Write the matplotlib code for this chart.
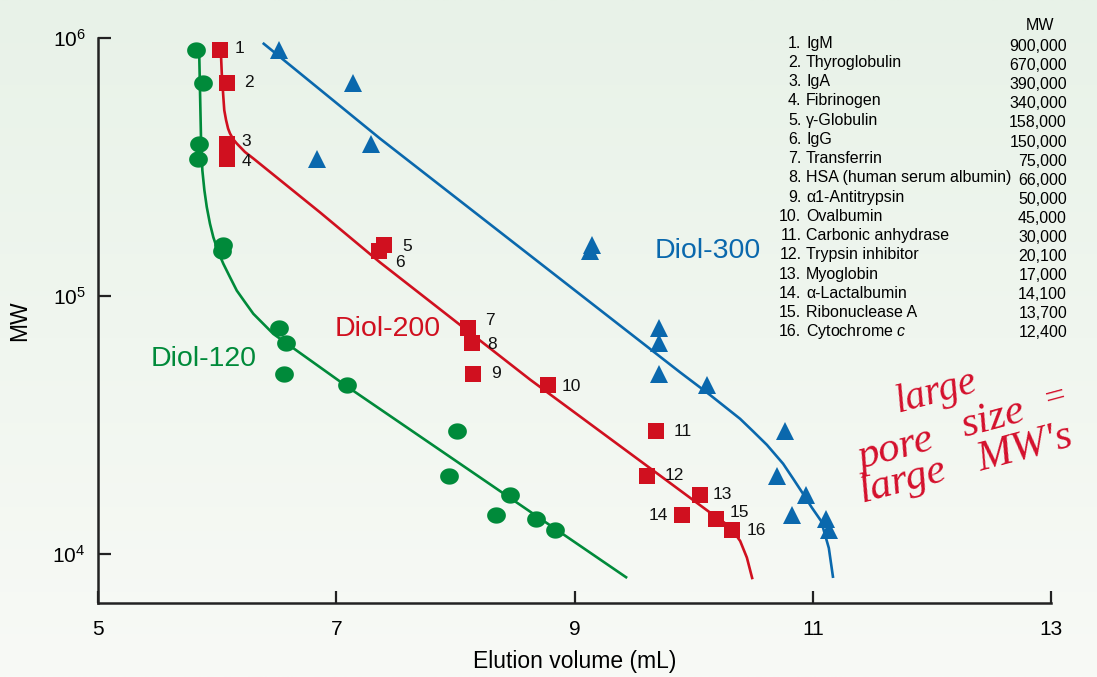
import numpy as np
import matplotlib
matplotlib.use("Agg")
import matplotlib.pyplot as plt
from matplotlib.path import Path
from matplotlib.ticker import FixedLocator, NullLocator, FixedFormatter

plt.rcParams['font.family'] = ['Liberation Sans', 'DejaVu Sans']
plt.rcParams['mathtext.fontset'] = 'custom'
plt.rcParams['mathtext.rm'] = 'Liberation Sans'
plt.rcParams['mathtext.it'] = 'Liberation Sans:italic'

# ---------------- data ----------------
protein_ids = [str(i) for i in range(1, 17)]
protein_names = ["IgM", "Thyroglobulin", "IgA", "Fibrinogen", "γ-Globulin", "IgG",
                 "Transferrin", "HSA (human serum albumin)", "α1-Antitrypsin",
                 "Ovalbumin", "Carbonic anhydrase", "Trypsin inhibitor", "Myoglobin",
                 "α-Lactalbumin", "Ribonuclease A", "Cytochrome $\\mathit{c}$"]
mw = [900000, 670000, 390000, 340000, 158000, 150000, 75000, 66000, 50000,
      45000, 30000, 20100, 17000, 14100, 13700, 12400]
mw_labels = ["900,000", "670,000", "390,000", "340,000", "158,000", "150,000",
             "75,000", "66,000", "50,000", "45,000", "30,000", "20,100",
             "17,000", "14,100", "13,700", "12,400"]

# elution volumes (mL)
v_diol120 = [5.82, 5.88, 5.85, 5.84, 6.05, 6.04, 6.52, 6.58, 6.56, 7.09,
             8.01, 7.95, 8.46, 8.34, 8.68, 8.84]
v_diol200 = [6.02, 6.08, 6.08, 6.08, 7.40, 7.36, 8.11, 8.14, 8.15, 8.78,
             9.68, 9.61, 10.05, 9.90, 10.19, 10.32]
v_diol300 = [6.52, 7.14, 7.29, 6.84, 9.15, 9.13, 9.71, 9.71, 9.71, 10.11,
             10.77, 10.70, 10.94, 10.83, 11.11, 11.14]

# calibration curves (elution volume, log10 MW)
curve120_v = [5.848, 5.865, 5.876, 5.893, 5.913, 5.940, 5.968, 6.010, 6.052, 6.108,
              6.165, 6.234, 6.304, 6.388, 6.472, 7.091, 9.442]
curve120_logmw = [5.977, 5.604, 5.487, 5.410, 5.345, 5.280, 5.228, 5.170, 5.125, 5.073,
                  5.021, 4.976, 4.931, 4.892, 4.853, 4.649, 3.907]
curve200_v = [6.029, 6.039, 6.052, 6.060, 6.075, 6.092, 6.108, 6.136, 6.165, 6.234,
              6.304, 6.864, 7.368, 8.627, 9.551, 10.195, 10.256, 10.321, 10.391,
              10.447, 10.494]
curve200_logmw = [5.973, 5.863, 5.772, 5.720, 5.682, 5.649, 5.630, 5.607, 5.591, 5.558,
                  5.533, 5.324, 5.130, 4.676, 4.361, 4.141, 4.122, 4.096, 4.050,
                  3.986, 3.902]
curve300_v = [6.383, 7.368, 9.887, 10.139, 10.390, 10.498, 10.615, 10.751, 10.838,
              10.919, 10.992, 11.070, 11.135, 11.171]
curve300_logmw = [5.981, 5.610, 4.704, 4.616, 4.524, 4.476, 4.423, 4.350, 4.290,
                  4.233, 4.180, 4.128, 4.023, 3.907]

x_ticks = [5, 7, 9, 11, 13]
y_ticks = [1e4, 1e5, 1e6]
y_ticklabels = ["$10^4$", "$10^5$", "$10^6$"]

# label offsets (pixels) for numbers beside Diol-200 squares
label_dx = [20, 22, 20, 20, 23, 21, 21, 20, 23, 23, 27, 27, 23, -23, 23, 25]
label_dy = [1, 0, 2, -3, -2, -12, 8, -2, 0, -1, -1, 0, 0, 0, 6, -1]

GREEN = "#008a3a"
RED = "#d0101f"
BLUE = "#0a68ad"

W, H = 1097, 677
fig = plt.figure(figsize=(W / 100, H / 100), dpi=100)

# background gradient
bg = fig.add_axes([0, 0, 1, 1], zorder=-10)
top = np.array([232, 242, 232]) / 255
bot = np.array([248, 250, 246]) / 255
t = np.linspace(0, 1, 256)[:, None]
grad = top[None, :] * (1 - t) + bot[None, :] * t
bg.imshow(np.repeat(grad[:, None, :], 2, axis=1), aspect='auto', extent=[0, 1, 0, 1])
bg.axis('off')

ax = fig.add_axes([98 / W, 1 - 603 / H, (1051 - 98) / W, (603 - 38) / H])
ax.set_facecolor('none')
ax.set_yscale('log')
ax.set_xlim(5, 13)
ax.set_ylim(10 ** 3.81, 1e6)

# ellipse-like marker for circles
th = np.linspace(0, 2 * np.pi, 60)
ellipse = Path(np.column_stack([1.15 * np.cos(th), np.sin(th)]), closed=True)

line_kw = dict(lw=1.9, zorder=2, solid_capstyle='butt', solid_joinstyle='round')
ax.plot(curve120_v, 10 ** np.array(curve120_logmw), color=GREEN, **line_kw)
ax.plot(curve200_v, 10 ** np.array(curve200_logmw), color=RED, **line_kw)
ax.plot(curve300_v, 10 ** np.array(curve300_logmw), color=BLUE, **line_kw)

ax.plot(v_diol120, mw, ls='none', marker=ellipse, ms=13.5, color=GREEN, mew=0, zorder=3)
ax.plot(v_diol200, mw, ls='none', marker='s', ms=11.5, color=RED, mew=0, zorder=3)
ax.plot(v_diol300, mw, ls='none', marker='^', ms=13, color=BLUE, mew=0, zorder=3)

for lab, v, m, dx, dy in zip(protein_ids, v_diol200, mw, label_dx, label_dy):
    ax.annotate(lab, (v, m), xytext=(dx, dy), textcoords='offset pixels',
                ha='center', va='center', fontsize=12.5, color='#111111', zorder=4)

ax.text(7.435, 1e5 * 10 ** (-(328 - 295) / 257.5), "Diol-200", color=RED, fontsize=20.5,
        ha='center', va='center')
ax.text(5.89, 1e5 * 10 ** (-(358 - 295) / 257.5), "Diol-120", color=GREEN, fontsize=20.5,
        ha='center', va='center')
ax.text(10.12, 1e5 * 10 ** (-(250 - 295) / 257.5), "Diol-300", color=BLUE, fontsize=20.5,
        ha='center', va='center')

ax.xaxis.set_major_locator(FixedLocator(x_ticks))
ax.yaxis.set_major_locator(FixedLocator(y_ticks))
ax.yaxis.set_major_formatter(FixedFormatter(y_ticklabels))
ax.yaxis.set_minor_locator(NullLocator())
ax.tick_params(direction='in', length=9, width=1.6, labelsize=15, color='#222222')
ax.tick_params(axis='y', pad=9)
ax.tick_params(axis='x', pad=12)
for s in ['top', 'right']:
    ax.spines[s].set_visible(False)
for s in ['left', 'bottom']:
    ax.spines[s].set_linewidth(1.8)
    ax.spines[s].set_color('#222222')
ax.set_xlabel("Elution volume (mL)", fontsize=16.5, labelpad=8)
ax.set_ylabel("MW", fontsize=16.5, labelpad=15)

# table of proteins
def fx(x):
    return x / W

def fy(y):
    return 1 - y / H

fig.text(fx(1040), fy(25), "MW", fontsize=11.5, ha='center', va='center')
for i, (pid, name, lab) in enumerate(zip(protein_ids, protein_names, mw_labels)):
    yn = 43.3 + 19.23 * i
    ynum = 46.7 + 19.07 * i
    fig.text(fx(801.5), fy(yn), pid + ".", fontsize=11.5, ha='right', va='center')
    fig.text(fx(806), fy(yn), name, fontsize=11.5, ha='left', va='center')
    fig.text(fx(1067), fy(ynum), lab, fontsize=11.5, ha='right', va='center')

# handwritten note, placed word by word
note_kw = dict(color='#d4102c', ha='center', va='center', rotation=15,
               family=['Liberation Serif', 'DejaVu Serif'], style='italic')
fig.text(fx(936), fy(392), "large", fontsize=29, **note_kw)
fig.text(fx(896), fy(449), "pore", fontsize=31, **note_kw)
fig.text(fx(993), fy(419), "size", fontsize=31, **note_kw)
fig.text(fx(1056), fy(398), "=", fontsize=26, **note_kw)
fig.text(fx(903), fy(481), "large", fontsize=31, **note_kw)
fig.text(fx(1025), fy(448), "MW's", fontsize=31, **note_kw)

fig.savefig("out.png", dpi=100)
